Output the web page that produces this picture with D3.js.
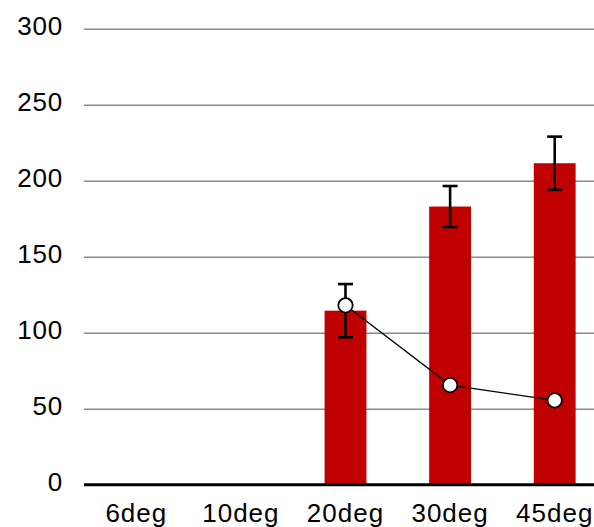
<!DOCTYPE html>
<html>
<head>
<meta charset="utf-8">
<script src="https://cdn.jsdelivr.net/npm/d3@7"></script>
<style>
  html, body { margin: 0; padding: 0; background: #fff; overflow: hidden; }
  svg { display: block; }
  text { font-family: "Liberation Sans", Arial, Helvetica, sans-serif; fill: #000; }
</style>
</head>
<body>
<svg id="chart" width="594" height="527"></svg>
<script>
const categories = ["6deg", "10deg", "20deg", "30deg", "45deg"];
const barValues = [null, null, 114.5, 183, 211.5];
const errorValues = [null, null, 17.5, 13.5, 17.5];
const lineValues = [null, null, 118, 65.5, 55.5];
const yTicks = [0, 50, 100, 150, 200, 250, 300];

(function () {
const svg = d3.select("#chart");
const plotLeft = 84, plotRight = 607, plotTop = 28.7, plotBottom = 484.7;

const x = d3.scaleBand().domain(categories).range([plotLeft, plotRight])
  .paddingInner(0.6).paddingOuter(0.3);
const y = d3.scaleLinear().domain([0, 300]).range([plotBottom, plotTop]);

// gridlines + y labels
const yAxis = d3.axisLeft(y).tickValues(yTicks).tickSize(0).tickPadding(0);
const gy = svg.append("g").attr("transform", `translate(${plotLeft},0)`).call(yAxis);
gy.select(".domain").remove();
gy.selectAll(".tick line").remove();
gy.selectAll(".tick").filter(d => d !== 0).append("line")
  .attr("x1", 0).attr("x2", 594 - plotLeft)
  .attr("stroke", "#8a8a8a").attr("stroke-width", 1.5);
gy.selectAll(".tick text")
  .attr("x", -21).attr("dy", "0.22em")
  .attr("font-size", 26).attr("letter-spacing", 0.8).attr("text-anchor", "end")
  .style("font-family", '"Liberation Sans", Arial, sans-serif').attr("fill", "#000")
  .text(d => d);

// bars
const barData = categories.map((c, i) => ({ c, v: barValues[i], e: errorValues[i], l: lineValues[i] }));
svg.append("g").selectAll("rect").data(barData.filter(d => d.v != null)).join("rect")
  .attr("x", d => x(d.c)).attr("width", x.bandwidth())
  .attr("y", d => y(d.v)).attr("height", d => y(0) - y(d.v))
  .attr("fill", "#c00000");

// baseline + x labels
const xAxis = d3.axisBottom(x).tickSize(0).tickPadding(0);
const gx = svg.append("g").attr("transform", `translate(0,${y(0)})`).call(xAxis);
gx.select(".domain").attr("d", `M${plotLeft},0H594`).attr("stroke", "#000").attr("stroke-width", 3);
gx.selectAll(".tick text")
  .attr("y", 37).attr("dy", 0)
  .attr("font-size", 26).attr("letter-spacing", 1)
  .style("font-family", '"Liberation Sans", Arial, sans-serif').attr("fill", "#000");

// error bars
const eb = svg.append("g").attr("stroke", "#000").attr("stroke-width", 2.6);
const cap = 7.5;
barData.filter(d => d.e != null).forEach(d => {
  const cx = x(d.c) + x.bandwidth() / 2;
  eb.append("line").attr("x1", cx).attr("x2", cx).attr("y1", y(d.v + d.e)).attr("y2", y(d.v - d.e));
  eb.append("line").attr("x1", cx - cap).attr("x2", cx + cap).attr("y1", y(d.v + d.e)).attr("y2", y(d.v + d.e));
  eb.append("line").attr("x1", cx - cap).attr("x2", cx + cap).attr("y1", y(d.v - d.e)).attr("y2", y(d.v - d.e));
});

// line + markers
const pts = barData.filter(d => d.l != null);
const line = d3.line().x(d => x(d.c) + x.bandwidth() / 2).y(d => y(d.l));
svg.append("path").datum(pts).attr("d", line)
  .attr("fill", "none").attr("stroke", "#000").attr("stroke-width", 1.3);
svg.append("g").selectAll("circle").data(pts).join("circle")
  .attr("cx", d => x(d.c) + x.bandwidth() / 2).attr("cy", d => y(d.l))
  .attr("r", 7.2).attr("fill", "#fff").attr("stroke", "#000").attr("stroke-width", 1.8);
})();
</script>
</body>
</html>
